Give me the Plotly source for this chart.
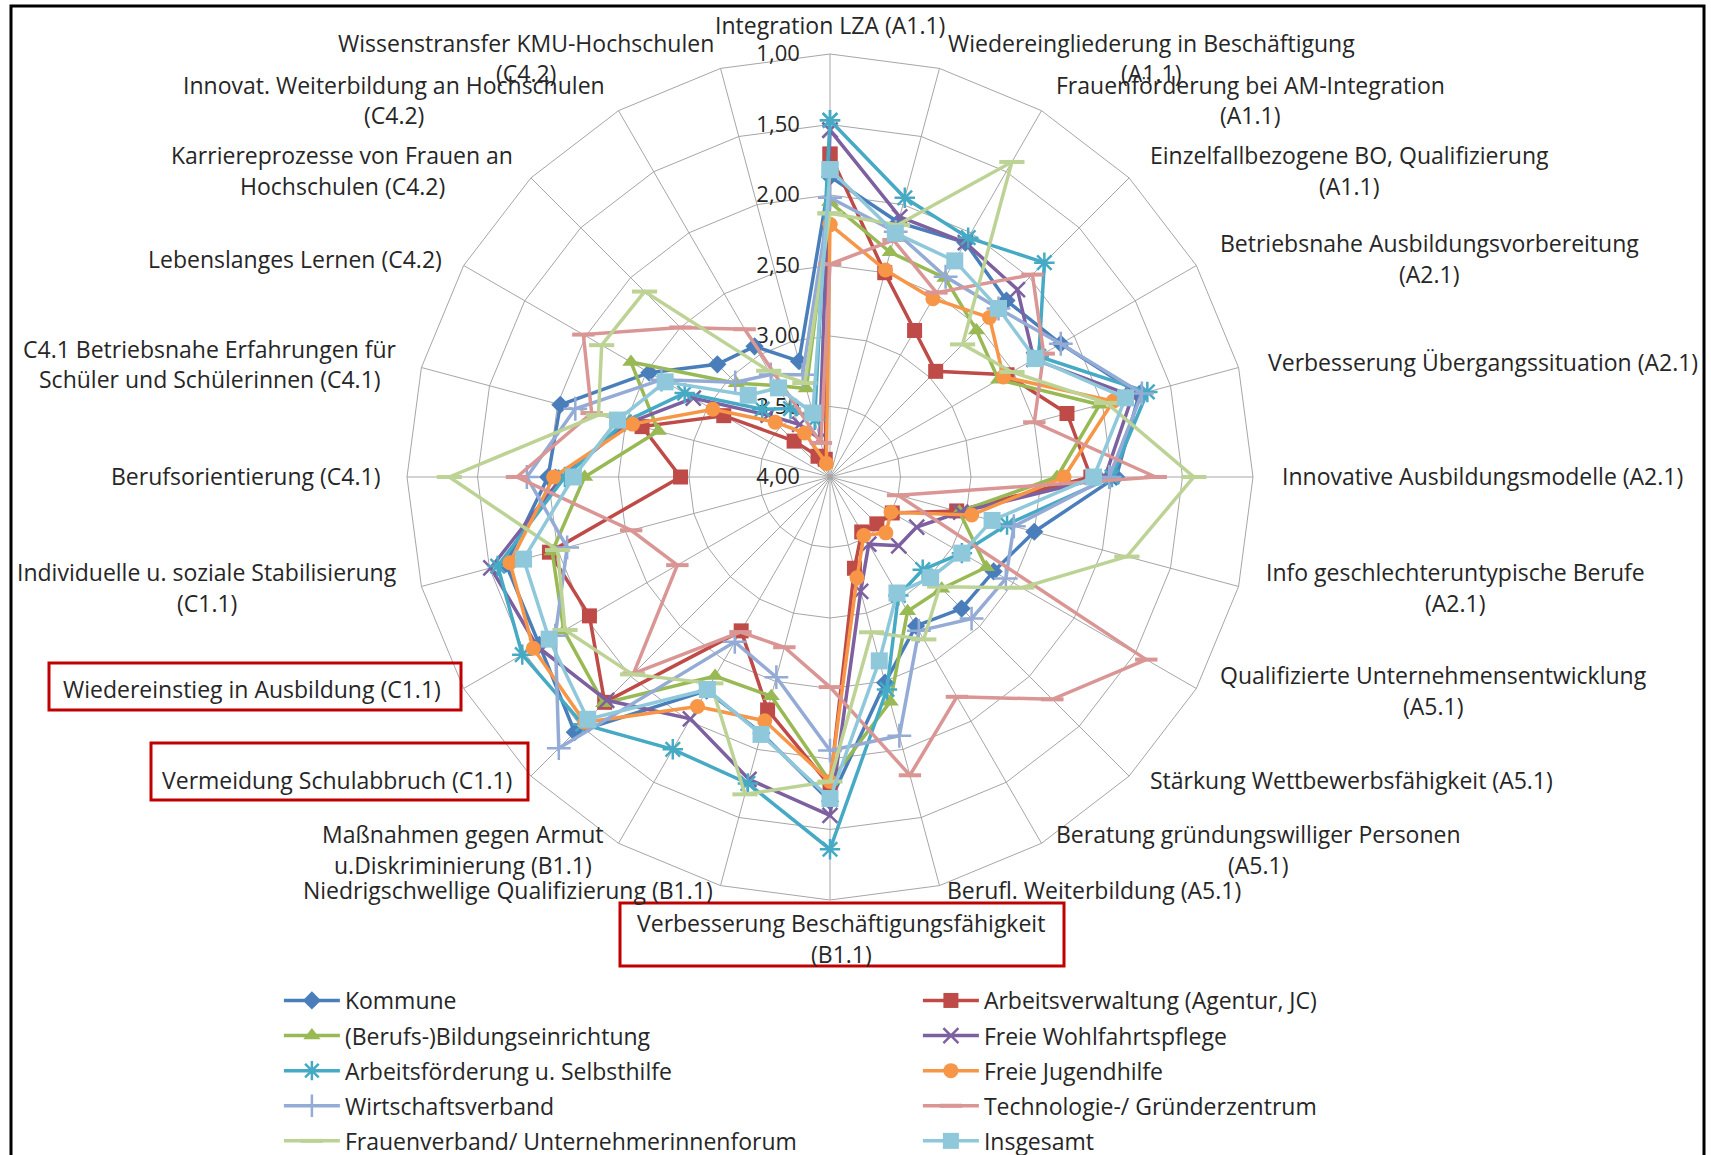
import plotly.graph_objects as go

W, H = 1711, 1155

# ---------------------------------------------------------------- data
CATEGORY_LABELS = [
    "Integration LZA (A1.1)",
    "Wiedereingliederung in Beschäftigung<br>(A1.1)",
    "Frauenförderung bei AM-Integration<br>(A1.1)",
    "Einzelfallbezogene BO, Qualifizierung<br>(A1.1)",
    "Betriebsnahe Ausbildungsvorbereitung<br>(A2.1)",
    "Verbesserung Übergangssituation (A2.1)",
    "Innovative Ausbildungsmodelle (A2.1)",
    "Info geschlechteruntypische Berufe<br>(A2.1)",
    "Qualifizierte Unternehmensentwicklung<br>(A5.1)",
    "Stärkung Wettbewerbsfähigkeit (A5.1)",
    "Beratung gründungswilliger Personen<br>(A5.1)",
    "Berufl. Weiterbildung (A5.1)",
    "Verbesserung Beschäftigungsfähigkeit<br>(B1.1)",
    "Niedrigschwellige Qualifizierung (B1.1)",
    "Maßnahmen gegen Armut<br>u.Diskriminierung (B1.1)",
    "Vermeidung Schulabbruch (C1.1)",
    "Wiedereinstieg in Ausbildung (C1.1)",
    "Individuelle u. soziale Stabilisierung<br>(C1.1)",
    "Berufsorientierung (C4.1)",
    "C4.1 Betriebsnahe Erfahrungen für<br>Schüler und Schülerinnen (C4.1)",
    "Lebenslanges Lernen (C4.2)",
    "Karriereprozesse von Frauen an<br>Hochschulen (C4.2)",
    "Innovat. Weiterbildung an Hochschulen<br>(C4.2)",
    "Wissenstransfer KMU-Hochschulen<br>(C4.2)",
]
CATEGORIES = [s.replace("<br>", " ") for s in CATEGORY_LABELS]
HIGHLIGHTED = [
    "Wiedereinstieg in Ausbildung (C1.1)",
    "Vermeidung Schulabbruch (C1.1)",
    "Verbesserung Beschäftigungsfähigkeit (B1.1)",
]

TICK_VALUES = [1.0, 1.5, 2.0, 2.5, 3.0, 3.5, 4.0]

kommune = [1.87, 2.13, 2.08, 2.23, 2.11, 1.73, 1.97, 2.50, 2.66, 2.68, 2.78, 2.49,
           1.70, 2.12, 2.25, 1.44, 1.62, 1.62, 2.00, 2.02, 2.52, 2.87, 2.93, 3.15]
arbeitsverwaltung = [1.71, 2.50, 2.80, 2.94, 2.55, 2.26, 2.15, 3.07, 3.49, 3.53, 3.55, 3.33,
                     1.81, 2.29, 2.74, 1.74, 2.03, 1.94, 2.94, 2.62, 3.13, 3.64, 3.83, 3.87]
bildungseinrichtung = [2.05, 2.35, 2.37, 2.53, 2.62, 2.02, 2.39, 3.05, 2.72, 2.88, 2.90, 2.35,
                       1.84, 2.39, 2.37, 1.73, 1.82, 1.96, 2.26, 2.74, 2.37, 3.06, 3.25, 3.35]
wohlfahrtspflege = [1.54, 2.09, 2.08, 2.12, 2.33, 1.78, 2.05, 3.04, 3.29, 3.31, 3.45, 3.16,
                    1.60, 1.78, 2.02, 1.76, 1.60, 1.51, 2.10, 2.52, 2.88, 3.38, 3.57, 3.72]
arbeitsfoerderung = [1.47, 1.95, 2.04, 1.85, 2.29, 1.67, 2.00, 2.70, 2.92, 3.07, 3.03, 2.44,
                     1.36, 1.75, 1.77, 1.52, 1.48, 1.56, 2.12, 2.49, 2.81, 3.32, 3.44, 3.58]
jugendhilfe = [2.21, 2.48, 2.54, 2.40, 2.58, 1.92, 2.34, 2.96, 3.50, 3.44, 3.52, 3.26,
               1.84, 2.21, 2.12, 1.54, 1.57, 1.65, 2.04, 2.55, 3.04, 3.45, 3.64, 3.90]
wirtschaftsverband = [2.02, 2.20, 2.36, 2.31, 2.11, 1.71, 2.02, 2.65, 2.56, 2.58, 2.74, 2.10,
                      2.06, 2.53, 2.65, 1.28, 1.75, 2.07, 1.85, 2.13, 2.62, 3.05, 3.16, 3.25]
gruenderzentrum = [2.49, 2.26, 2.49, 1.97, 2.25, 2.50, 1.69, 3.50, 1.41, 1.77, 2.20, 1.81,
                   2.51, 2.75, 2.73, 2.03, 2.75, 2.54, 1.78, 2.25, 1.98, 2.50, 2.79, 3.75]
frauenverband = [2.13, 2.15, 1.42, 2.67, 2.51, 1.97, 1.42, 1.82, 2.43, 2.90, 2.67, 2.86,
                 1.84, 1.67, 2.31, 2.02, 1.83, 2.00, 1.30, 2.30, 2.13, 2.14, 3.13, 3.31]
insgesamt = [1.82, 2.21, 2.23, 2.31, 2.32, 1.83, 2.13, 2.81, 2.92, 2.99, 3.05, 2.65,
             1.72, 2.11, 2.26, 1.57, 1.70, 1.75, 2.18, 2.44, 2.65, 3.18, 3.27, 3.53]

SERIES_NAMES = [
    "Kommune", "Arbeitsverwaltung (Agentur, JC)",
    "(Berufs-)Bildungseinrichtung", "Freie Wohlfahrtspflege",
    "Arbeitsförderung u. Selbsthilfe", "Freie Jugendhilfe",
    "Wirtschaftsverband", "Technologie-/ Gründerzentrum",
    "Frauenverband/ Unternehmerinnenforum", "Insgesamt",
]
SERIES_VALUES = [
    kommune, arbeitsverwaltung, bildungseinrichtung, wohlfahrtspflege,
    arbeitsfoerderung, jugendhilfe, wirtschaftsverband, gruenderzentrum,
    frauenverband, insgesamt,
]

# ---------------------------------------------------------------- styles
COLORS = ["#4A7EBB", "#BE4B48", "#98B954", "#7D60A0", "#46AAC5",
          "#F79646", "#94ABD6", "#D99694", "#BDD396", "#8EC8DA"]
MARKERS = [
    dict(symbol="diamond", size=14),
    dict(symbol="square", size=15),
    dict(symbol="triangle-up", size=15),
    dict(symbol="x-thin", size=15, line=dict(width=2.5)),
    dict(symbol="asterisk", size=17, line=dict(width=2.5)),
    dict(symbol="circle", size=15),
    dict(symbol="cross-thin", size=17, line=dict(width=2.5)),
    dict(symbol="line-ew", size=16, line=dict(width=4)),
    dict(symbol="line-ew", size=18, line=dict(width=4)),
    dict(symbol="square", size=17),
]
FONT = "Open Sans, DejaVu Sans, sans-serif"
TEXT_COLOR = "#262626"
GRID_COLOR = "#A6A6A6"
LABEL_SIZE = 23
LINE_STEP = 30.5  # px between the lines of a wrapped category label

fig = go.Figure()
for i, (name, vals, color, mk) in enumerate(zip(SERIES_NAMES, SERIES_VALUES, COLORS, MARKERS)):
    marker = dict(color=color, **{k: v for k, v in mk.items() if k != "line"})
    marker["line"] = dict(color=color, width=mk.get("line", {}).get("width", 0))
    fig.add_trace(go.Scatterpolar(
        r=vals + vals[:1],
        theta=CATEGORIES + CATEGORIES[:1],
        mode="lines+markers",
        name=name,
        legend="legend" if i % 2 == 0 else "legend2",
        legendgroup=f"g{i}",
        line=dict(color=color, width=3.5),
        marker=marker,
    ))

# polar area: centre (830, 477) px, radius ~423 px
cx, cy, rad = 830, 477, 423
legend_style = dict(
    orientation="v", y=1 - 979 / H, xanchor="left", yanchor="top",
    itemwidth=56, tracegroupgap=2.2,
    font=dict(family=FONT, size=LABEL_SIZE, color=TEXT_COLOR),
    bgcolor="rgba(0,0,0,0)", traceorder="grouped",
)
fig.update_layout(
    width=W, height=H,
    margin=dict(l=0, r=0, t=0, b=0, autoexpand=False),
    paper_bgcolor="white",
    separators=",.",
    font=dict(family=FONT, size=LABEL_SIZE, color=TEXT_COLOR),
    polar=dict(
        domain=dict(x=[(cx - rad) / W, (cx + rad) / W],
                    y=[1 - (cy + rad) / H, 1 - (cy - rad) / H]),
        bgcolor="white",
        gridshape="linear",
        angularaxis=dict(
            type="category", categoryarray=CATEGORIES,
            rotation=90, direction="clockwise",
            showticklabels=False, ticks="",
            showgrid=True, gridcolor=GRID_COLOR, gridwidth=1,
            showline=True, linecolor=GRID_COLOR, linewidth=1,
            layer="below traces",
        ),
        radialaxis=dict(
            range=[4, 1], tickvals=TICK_VALUES, tickformat=".2f",
            angle=90, side="counterclockwise", tickangle=90,
            ticks="outside", ticklen=22, tickcolor="rgba(0,0,0,0)",
            showline=False, showgrid=True, gridcolor=GRID_COLOR, gridwidth=1,
            tickfont=dict(family=FONT, size=22, color=TEXT_COLOR),
            layer="below traces",
        ),
    ),
    showlegend=True,
    legend=dict(x=0.163, **legend_style),
    legend2=dict(x=0.163 + 639 / W, **legend_style),
)

# category labels around the web: (x px, y px of first line, anchor)
LABEL_POS = [
    (830, 25, "center"), (1151, 43, "center"), (1250, 85, "center"),
    (1349, 155, "center"), (1429, 243, "center"), (1266, 362, "left"),
    (1280, 476, "left"), (1455, 572, "center"), (1433, 675, "center"),
    (1351, 780, "center"), (1258, 834, "center"), (1094, 890, "center"),
    (841, 923, "center"), (508, 890, "center"), (463, 834, "center"),
    (337, 780, "center"), (252, 689, "center"), (207, 572, "center"),
    (382, 476, "right"), (210, 349, "center"), (295, 259, "center"),
    (342, 155, "center"), (394, 85, "center"), (526, 43, "center"),
]
for text, (x, y, anchor) in zip(CATEGORY_LABELS, LABEL_POS):
    for i, line in enumerate(text.split("<br>")):
        fig.add_annotation(
            text=line, x=x / W, y=1 - (y + i * LINE_STEP) / H,
            xref="paper", yref="paper",
            xanchor=anchor, yanchor="middle", showarrow=False,
            font=dict(family=FONT, size=LABEL_SIZE, color=TEXT_COLOR),
        )

# red frames around the highlighted measures
BOX_PX = {
    "Wiedereinstieg in Ausbildung (C1.1)": (49, 663, 461, 710),
    "Vermeidung Schulabbruch (C1.1)": (151, 743, 528, 800),
    "Verbesserung Beschäftigungsfähigkeit (B1.1)": (620, 903, 1064, 966),
}
for cat in HIGHLIGHTED:
    x0, y0, x1, y1 = BOX_PX[cat]
    fig.add_shape(type="rect", xref="paper", yref="paper",
                  x0=x0 / W, x1=x1 / W, y0=1 - y1 / H, y1=1 - y0 / H,
                  line=dict(color="#C00000", width=3), fillcolor="rgba(0,0,0,0)")

# outer frame of the chart area
fig.add_shape(type="path", xref="paper", yref="paper",
              path=f"M {11 / W},{-0.01} L {11 / W},{1 - 6 / H} L {1704 / W},{1 - 6 / H} L {1704 / W},{-0.01}",
              line=dict(color="black", width=3))

fig.write_html("out.html")
